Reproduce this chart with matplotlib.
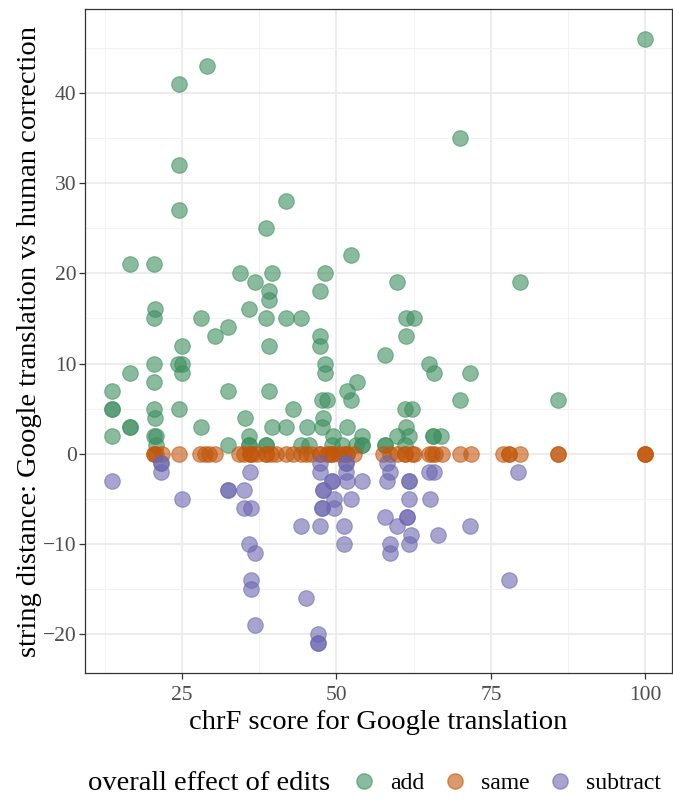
import matplotlib

matplotlib.use("Agg")
import matplotlib.pyplot as plt
from matplotlib.lines import Line2D
from matplotlib.ticker import MultipleLocator

# chrF score (x) and string distance (y) per sentence, grouped by edit effect
add_x = [100, 70, 29, 24.5, 24.5, 24.5, 41.8, 38.6, 52.4, 16.6, 20.5, 34.4, 39.6, 48.2,
         36.8, 59.8, 79.7, 39.1, 39.1, 47.4, 20.7, 35.9, 20.5, 28, 38.6, 41.8, 44.3,
         61.3, 62.5, 32.4, 30.3, 47.4, 61.3, 25.05, 39.1, 47.4, 57.8, 20.5, 24.4, 25.05,
         48.2, 64.9, 16.6, 25, 48.2, 65.8, 71.6, 20.5, 53.4, 13.6, 32.4, 39.1, 51.7,
         47.6, 48.4, 52.4, 70, 85.9, 13.6, 13.6, 20.5, 24.5, 43, 61.1, 62.2, 20.6, 35.2,
         47.8, 16.6, 16.6, 28, 39.6, 41.8, 45.2, 47.7, 51.7, 61.2, 13.6, 20.5, 20.8,
         35.8, 49.5, 54.1, 59.8, 61.7, 65.7, 65.7, 66.9, 20.8, 32.4, 35.8, 35.8, 38.6,
         38.6, 44.2, 45.6, 49.3, 50.9, 53.1, 54.1, 54.1, 57.8, 57.8, 61.1]
add_y = [46, 35, 43, 41, 32, 27, 28, 25, 22, 21, 21, 20, 20, 20,
         19, 19, 19, 18, 17, 18, 16, 16, 15, 15, 15, 15, 15,
         15, 15, 14, 13, 13, 13, 12, 12, 12, 11, 10, 10, 10,
         10, 10, 9, 9, 9, 9, 9, 8, 8, 7, 7, 7, 7,
         6, 6, 6, 6, 6, 5, 5, 5, 5, 5, 5, 5, 4, 4,
         4, 3, 3, 3, 3, 3, 3, 3, 3, 3, 2, 2, 2,
         2, 2, 2, 2, 2, 2, 2, 2, 1, 1, 1, 1, 1,
         1, 1, 1, 1, 1, 1, 1, 1, 1, 1, 1]

same_x = [20.45, 20.45, 20.8, 21.7, 24.5, 27.9, 28.8, 29.3, 30.3, 34.3, 35.1, 36.0,
          36.0, 36.4, 37.2, 38.6, 38.6, 39.4, 40.2, 41.8, 42.9, 44.2, 45.0, 45.8,
          47.4, 47.4, 48.5, 48.8, 49.3, 49.3, 50.4, 51.2, 51.7, 51.7, 52.8, 57.6,
          58.7, 59.8, 61.1, 61.1, 62.2, 62.5, 64.9, 65.4, 65.9, 67.0, 70, 71.7,
          76.9, 78, 78, 79.7, 85.9, 85.9, 100, 100, 100]
same_y = [0] * len(same_x)

sub_x = [13.6, 21.6, 21.6, 21.6, 25, 32.4, 32.4, 35.1, 36, 35.1, 36.2, 35.8, 36.8,
         36.1, 36.1, 36.8, 44.3, 45.1, 47, 47, 47, 47.4, 47.4, 47.8, 47.8, 47.4,
         47.7, 47.7, 49.3, 49.3, 49.6, 49.6, 51.5, 51.5, 51.5, 51.7, 52.3, 54.2,
         51.2, 51.2, 57.8, 58.2, 58.7, 58.2, 58.7, 58.7, 59.8, 61.7, 61.7, 61.4,
         61.4, 61.7, 61.7, 62, 64.9, 65.8, 65.2, 66.5, 71.6, 78, 79.3]
sub_y = [-3, -1, -1, -2, -5, -4, -4, -4, -2, -6, -6, -10, -11,
         -14, -15, -19, -8, -16, -20, -21, -21, -1, -2, -4, -4, -8,
         -6, -6, -3, -3, -5, -6, -1, -1, -2, -3, -5, -3,
         -8, -10, -7, -1, -2, -3, -10, -11, -8, -3, -3, -7,
         -7, -5, -10, -9, -2, -2, -5, -9, -8, -14, -2]

groups = ["add", "same", "subtract"]
colors = {"add": "#3d8f5f", "same": "#c2570c", "subtract": "#6c67b0"}
series = {"add": (add_x, add_y), "same": (same_x, same_y), "subtract": (sub_x, sub_y)}

plt.rcParams["font.family"] = ["Liberation Serif", "DejaVu Serif"]

fig = plt.figure(figsize=(6.73, 7.98), dpi=100)
ax = fig.add_axes([85 / 673, 1 - 673 / 798, 587 / 673, 664 / 798])

for g in groups:
    xs, ys = series[g]
    ax.scatter(xs, ys, s=125, color=colors[g], alpha=0.6,
               edgecolors=colors[g], linewidths=0.8, zorder=3)

ax.set_xlim(9.3, 104.3)
ax.set_ylim(-24.35, 49.35)
ax.xaxis.set_major_locator(MultipleLocator(25))
ax.xaxis.set_minor_locator(MultipleLocator(12.5))
ax.yaxis.set_major_locator(MultipleLocator(10))
ax.yaxis.set_minor_locator(MultipleLocator(5))

ax.grid(True, which="major", color="#EBEBEB", linewidth=1.3, zorder=0)
ax.grid(True, which="minor", color="#F2F2F2", linewidth=0.8, zorder=0)
ax.set_axisbelow(True)
for sp in ax.spines.values():
    sp.set_color("#333333")
    sp.set_linewidth(0.9)

ax.tick_params(which="major", length=4, width=0.9, color="#333333",
               labelsize=15.5, labelcolor="#4D4D4D")
ax.tick_params(axis="x", which="major", pad=5)
ax.tick_params(axis="y", which="major", pad=2)
ax.tick_params(which="minor", length=0)

ax.set_xlabel("chrF score for Google translation", fontsize=20.5, labelpad=4)
ax.set_ylabel("string distance: Google translation vs human correction",
              fontsize=20.5, labelpad=1)

fig.text(88 / 673, 1 - 783 / 798, "overall effect of edits", fontsize=20.5,
         va="center", ha="left")
handles = [Line2D([], [], marker="o", linestyle="none", markersize=11,
                  markerfacecolor=colors[g], markeredgecolor=colors[g],
                  alpha=0.6, label=g) for g in groups]
fig.legend(handles=handles, ncol=3, loc="center left",
           bbox_to_anchor=(350 / 673, 1 - 783 / 798), frameon=False,
           fontsize=17, handletextpad=0.5, columnspacing=0.7,
           handlelength=1.2, borderaxespad=0, borderpad=0)

fig.savefig("out.png", dpi=100)
plt.close(fig)
